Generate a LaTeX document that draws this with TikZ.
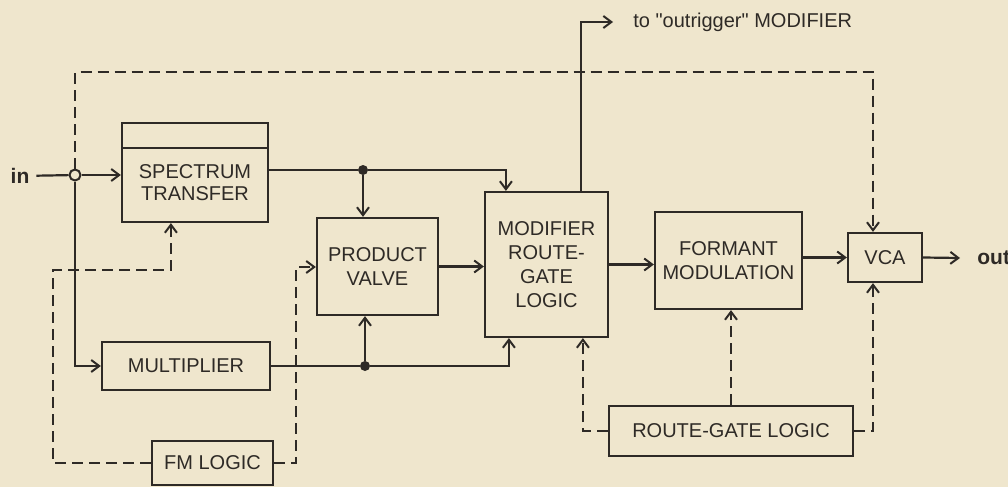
\documentclass[tikz,border=0pt]{standalone}
\usepackage{fontspec}
\setmainfont{Liberation Sans}
\usetikzlibrary{arrows.meta,calc}
\definecolor{paper}{HTML}{EFE6CD}
\definecolor{ink}{HTML}{2E2A26}
\begin{document}
\begin{tikzpicture}[x=0.5pt,y=-0.5pt,
  box/.style={draw=ink, line width=1.1pt, text=ink, font=\fontsize{10}{12}\selectfont, align=center, inner sep=0pt},
  lbl/.style={text=ink, font=\fontsize{10}{12}\selectfont},
  plain/.style={draw=ink, line width=1.1pt},
  conn/.style={plain, -{Straight Barb[length=4pt,width=6pt,line width=1pt]}},
  dconn/.style={conn, line width=1.3pt, dash pattern=on 5.5pt off 3pt},
  dot/.style={circle, fill=ink, inner sep=0pt, minimum size=5pt},
  odot/.style={circle, draw=ink, fill=paper, line width=1pt, inner sep=0pt, minimum size=5.5pt}]
\useasboundingbox (0,0) rectangle (1008,487);
\fill[paper] (0,0) rectangle (1008,487);

% boxes
\node[box, minimum width=73pt, minimum height=12.5pt] (sttop) at (195,135.5) {};
\node[box, minimum width=73pt, minimum height=37pt] (st) at (195,185) {\raisebox{2pt}{\begin{tabular}{@{}c@{}}SPECTRUM\\[-1pt]TRANSFER\end{tabular}}};
\node[box, minimum width=60.5pt, minimum height=48.5pt] (pv) at (377.5,266.5) {PRODUCT\\VALVE};
\node[box, minimum width=61.5pt, minimum height=72.5pt] (mod) at (546.5,264.5) {MODIFIER\\ROUTE-\\GATE\\LOGIC};
\node[box, minimum width=73.5pt, minimum height=48.5pt] (fmod) at (728.5,260.5) {FORMANT\\MODULATION};
\node[box, minimum width=37pt, minimum height=24.5pt] (vca) at (885,257.5) {VCA};
\node[box, minimum width=84pt, minimum height=24pt] (mult) at (186,366) {MULTIPLIER};
\node[box, minimum width=60.5pt, minimum height=22pt] (fml) at (212.5,463) {FM LOGIC};
\node[box, minimum width=122pt, minimum height=25pt] (rgl) at (731,431) {ROUTE-GATE LOGIC};

% labels
\node[lbl, font=\fontsize{10.5}{12}\selectfont\bfseries] (in) at (20,176) {in};
\node[lbl, font=\fontsize{10.5}{12}\selectfont\bfseries, anchor=west, inner xsep=8.5pt] (out) at (960,258) {out};
\node[lbl, anchor=west, inner xsep=10pt] (outr) at (613,22) {to \textquotedbl outrigger\textquotedbl\ MODIFIER};

% junctions and bends
\node[odot] (j1) at (75,175) {};
\node[dot] (j2) at (363,170) {};
\node[dot] (j3) at (365,366) {};
\coordinate (tv) at (873,72);
\coordinate (c1) at (53,270);
\coordinate (c2) at (296,267);

% solid connectors
\draw[plain] (in) -- (j1);
\draw[conn] (j1) -- (j1 -| st.west);
\draw[conn] (j1) |- (mult.west);
\draw[plain] (st.east |- j2) -- (j2);
\draw[conn] (j2) -| ([xshift=11pt]mod.north west);
\draw[conn] (j2) -- (j2 |- pv.north);
\draw[conn] (pv.east) -- (pv.east -| mod.west);
\draw[plain] (mult.east) -- (j3);
\draw[conn] (j3) -| ([xshift=12.5pt]mod.south west);
\draw[conn] (j3) -- (j3 |- pv.south);
\draw[conn] (mod.east) -- (mod.east -| fmod.west);
\draw[conn] (vca.west -| fmod.east) -- (vca.west);
\draw[conn] (vca.east) -- (out.west);
\draw[conn] ([xshift=48.5pt]mod.north west) |- (outr.west);

% dashed control connectors
\draw[dconn] (j1) |- (tv) -- (tv |- vca.north);
\draw[dconn] (fml.west) -| (c1) -| ([xshift=25pt]st.south west);
\draw[dconn] (fml.east) -| (c2) -- (c2 -| pv.west);
\draw[dconn] (rgl.west) -| ([xshift=49.5pt]mod.south west);
\draw[dconn] (rgl.north) -- (rgl.north |- fmod.south);
\draw[dconn] (rgl.east) -| (tv |- vca.south);
\end{tikzpicture}
\end{document}
